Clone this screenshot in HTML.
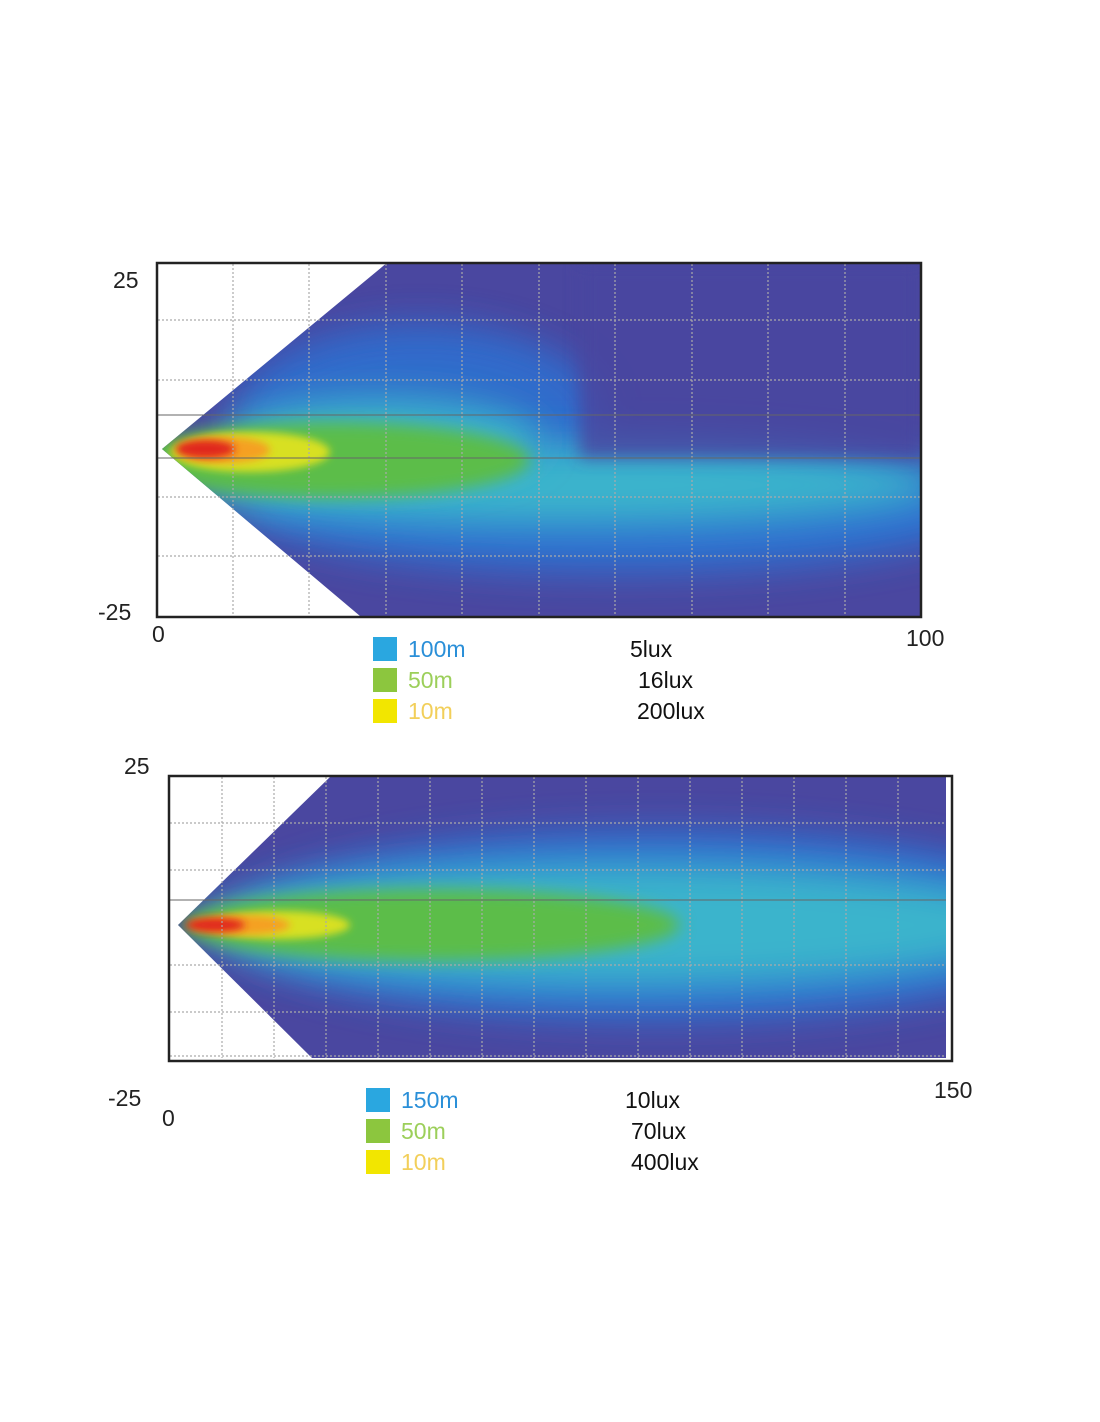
<!DOCTYPE html>
<html><head><meta charset="utf-8"><style>
body{margin:0;background:#fff;}
svg{display:block;font-family:"Liberation Sans",sans-serif;}
</style></head><body>
<svg width="1100" height="1422" viewBox="0 0 1100 1422">
<defs>
<filter id="b1" x="-50%" y="-50%" width="200%" height="200%"><feGaussianBlur stdDeviation="18"/></filter>
<filter id="b2" x="-50%" y="-50%" width="200%" height="200%"><feGaussianBlur stdDeviation="8"/></filter>
<filter id="b3" x="-50%" y="-50%" width="200%" height="200%"><feGaussianBlur stdDeviation="4"/></filter>
<clipPath id="c1"><polygon points="162,449 388,262 920,262 920,616 360,616"/></clipPath>
<clipPath id="c2"><polygon points="178,925 330,777 948,777 948,1058 312,1058"/></clipPath>
</defs>

<!-- TOP CHART -->
<rect x="156" y="262" width="766" height="356" fill="#fff"/>
<g clip-path="url(#c1)">
<rect x="150" y="250" width="780" height="380" fill="#4a47a0"/>
<ellipse cx="420" cy="415" rx="185" ry="92" fill="#2f6fd0" filter="url(#b1)" opacity="0.9"/>
<ellipse cx="620" cy="505" rx="380" ry="68" fill="#2f6fd0" filter="url(#b1)"/>
<ellipse cx="560" cy="485" rx="380" ry="40" fill="#3bb4cc" filter="url(#b1)"/>
<ellipse cx="380" cy="440" rx="160" ry="42" fill="#3bb4cc" filter="url(#b1)"/>
<ellipse cx="330" cy="460" rx="200" ry="38" fill="#5cbd48" filter="url(#b2)"/>
<ellipse cx="250" cy="452" rx="80" ry="20" fill="#d8e020" filter="url(#b3)"/>
<ellipse cx="225" cy="450" rx="45" ry="13" fill="#f5a020" filter="url(#b3)"/>
<ellipse cx="205" cy="449" rx="30" ry="9" fill="#e0281c" filter="url(#b3)"/>
<rect x="580" y="262" width="340" height="196" fill="#4a47a0" filter="url(#b2)" opacity="0.8"/>
</g>
<g stroke="#aaa" stroke-width="1.2" stroke-dasharray="2,2" fill="none">
<path d="M233 264V616M309 264V616M386 264V616M462 264V616M539 264V616M615 264V616M692 264V616M768 264V616M845 264V616"/>
<path d="M158 320H920M158 380H920M158 497H920M158 556H920"/>
</g>
<path d="M158 415H920M158 458H920" stroke="#666" stroke-width="1"/>
<rect x="157" y="263" width="764" height="354" fill="none" stroke="#222" stroke-width="2.5"/>
<g font-size="23" fill="#222">
<text x="113" y="288">25</text><text x="98" y="620">-25</text>
<text x="152" y="642">0</text><text x="906" y="646">100</text>
</g>
<rect x="373" y="637" width="24" height="24" fill="#2aa7e0"/>
<rect x="373" y="668" width="24" height="24" fill="#8cc63e"/>
<rect x="373" y="699" width="24" height="24" fill="#f2e600"/>
<g font-size="23">
<text x="408" y="657" fill="#2a8fd8">100m</text>
<text x="408" y="688" fill="#9ccf5a">50m</text>
<text x="408" y="719" fill="#f2cf5a">10m</text>
<text x="630" y="657" fill="#111">5lux</text>
<text x="638" y="688" fill="#111">16lux</text>
<text x="637" y="719" fill="#111">200lux</text>
</g>

<!-- BOTTOM CHART -->
<rect x="168" y="775" width="785" height="287" fill="#fff"/>
<g clip-path="url(#c2)">
<rect x="160" y="770" width="800" height="300" fill="#4a47a0"/>
<ellipse cx="660" cy="925" rx="430" ry="95" fill="#2f6fd0" filter="url(#b1)"/>
<ellipse cx="620" cy="925" rx="420" ry="62" fill="#3bb4cc" filter="url(#b1)"/>
<ellipse cx="430" cy="925" rx="250" ry="36" fill="#5cbd48" filter="url(#b2)"/>
<ellipse cx="280" cy="925" rx="70" ry="14" fill="#d8e020" filter="url(#b3)"/>
<ellipse cx="240" cy="925" rx="50" ry="10" fill="#f5a020" filter="url(#b3)"/>
<ellipse cx="215" cy="925" rx="30" ry="7" fill="#e0281c" filter="url(#b3)"/>
</g>
<g stroke="#aaa" stroke-width="1.2" stroke-dasharray="2,2" fill="none">
<path d="M222 777V1058M274 777V1058M326 777V1058M378 777V1058M430 777V1058M482 777V1058M534 777V1058M586 777V1058M638 777V1058M690 777V1058M742 777V1058M794 777V1058M846 777V1058M898 777V1058"/>
<path d="M170 823H948M170 870H948M170 965H948M170 1012H948M170 1056H948"/>
</g>
<path d="M170 900H948" stroke="#666" stroke-width="1"/>
<rect x="946" y="777" width="6" height="283" fill="#fff"/>
<rect x="169" y="776" width="783" height="285" fill="none" stroke="#222" stroke-width="2.5"/>
<g font-size="23" fill="#222">
<text x="124" y="774">25</text><text x="108" y="1106">-25</text>
<text x="162" y="1126">0</text><text x="934" y="1098">150</text>
</g>
<rect x="366" y="1088" width="24" height="24" fill="#2aa7e0"/>
<rect x="366" y="1119" width="24" height="24" fill="#8cc63e"/>
<rect x="366" y="1150" width="24" height="24" fill="#f2e600"/>
<g font-size="23">
<text x="401" y="1108" fill="#2a8fd8">150m</text>
<text x="401" y="1139" fill="#9ccf5a">50m</text>
<text x="401" y="1170" fill="#f2cf5a">10m</text>
<text x="625" y="1108" fill="#111">10lux</text>
<text x="631" y="1139" fill="#111">70lux</text>
<text x="631" y="1170" fill="#111">400lux</text>
</g>
</svg>
</body></html>
